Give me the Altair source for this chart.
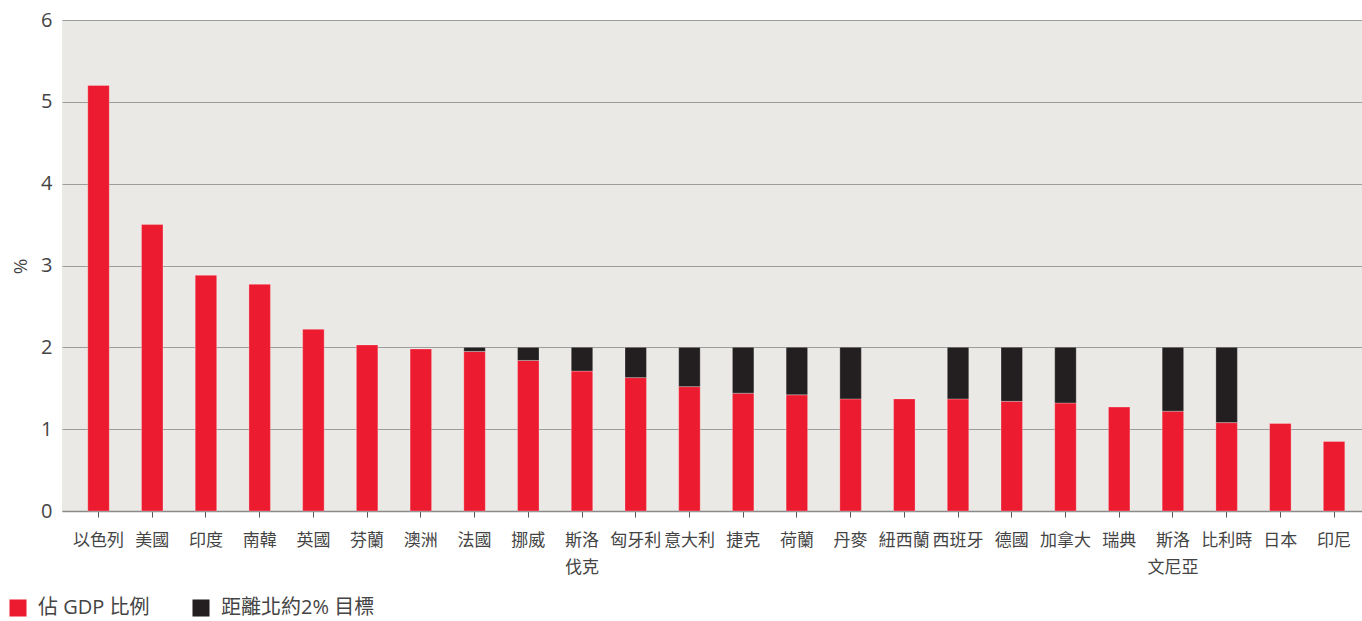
import altair as alt
import pandas as pd

# Defence spending as share of GDP (%), and gap to NATO's 2% target
countries = ["以色列", "美國", "印度", "南韓", "英國", "芬蘭", "澳洲", "法國", "挪威",
             "斯洛 伐克", "匈牙利", "意大利", "捷克", "荷蘭", "丹麥", "紐西蘭", "西班牙",
             "德國", "加拿大", "瑞典", "斯洛 文尼亞", "比利時", "日本", "印尼"]
gdp_share = [5.20, 3.50, 2.88, 2.77, 2.22, 2.03, 1.98, 1.95, 1.84,
             1.71, 1.63, 1.52, 1.44, 1.42, 1.37, 1.37, 1.37,
             1.34, 1.32, 1.27, 1.22, 1.08, 1.07, 0.85]
gap_to_target = [0, 0, 0, 0, 0, 0, 0, 0.05, 0.16,
                 0.29, 0.37, 0.48, 0.56, 0.58, 0.63, 0, 0.63,
                 0.66, 0.68, 0, 0.78, 0.92, 0, 0]

series_names = ["佔 GDP 比例", "距離北約2% 目標"]
series_colors = ["#ED1B2F", "#231F20"]

rows = []
for i, c in enumerate(countries):
    rows.append({"country": c, "series": series_names[0], "value": gdp_share[i], "order": 0})
    if gap_to_target[i] > 0:
        rows.append({"country": c, "series": series_names[1], "value": gap_to_target[i], "order": 1})
df = pd.DataFrame(rows)

FONT = "Open Sans, Noto Sans CJK TC, sans-serif"
TEXT = "#444444"

chart = alt.Chart(df).mark_bar(
    stroke="white", strokeWidth=0.6, strokeOpacity=0.45
).encode(
    x=alt.X(
        "country:N",
        sort=countries,
        scale=alt.Scale(paddingInner=0.6, paddingOuter=0.4, align=0.6),
        axis=alt.Axis(
            title=None,
            labelAngle=0,
            labelExpr="split(datum.label, ' ')",
            labelFont=FONT,
            labelFontSize=17,
            labelColor=TEXT,
            labelLineHeight=27,
            labelPadding=15,
            labelBaseline="top",
            tickSize=6,
            tickColor="#555555",
            domainColor="#8a8a8a",
            domainWidth=1.5,
            grid=False,
        ),
    ),
    y=alt.Y(
        "value:Q",
        stack="zero",
        scale=alt.Scale(domain=[0, 6], nice=False),
        axis=alt.Axis(
            title="%",
            values=[0, 1, 2, 3, 4, 5, 6],
            format="d",
            labelFont=FONT,
            labelFontSize=20,
            labelColor=TEXT,
            labelPadding=10,
            ticks=False,
            domain=False,
            gridColor="#9d9d9d",
            gridWidth=1,
            titleFont=FONT,
            titleFontSize=19,
            titleFontWeight="normal",
            titleColor=TEXT,
            titleX=-42,
            titleY=246,
            titleAngle=-90,
            titleAlign="center",
            titleBaseline="middle",
        ),
    ),
    color=alt.Color(
        "series:N",
        scale=alt.Scale(domain=series_names, range=series_colors),
        legend=alt.Legend(
            title=None,
            orient="none",
            direction="horizontal",
            legendX=-54,
            legendY=578,
            symbolType="square",
            symbolSize=290,
            symbolStrokeWidth=0,
            symbolOpacity=1,
            labelFont=FONT,
            labelFontSize=20,
            labelColor=TEXT,
            labelOffset=10,
            columnPadding=41,
            labelLimit=300,
        ),
    ),
    order=alt.Order("order:Q"),
).properties(
    width=1300,
    height=491,
    autosize=alt.AutoSizeParams(type="none"),
    padding={"left": 62, "top": 20, "right": 0, "bottom": 110},
    background="white",
).configure_view(
    fill="#EBE9E5",
    stroke=None,
)

chart.save("out.html", embed_options={"renderer": "svg", "actions": False})
